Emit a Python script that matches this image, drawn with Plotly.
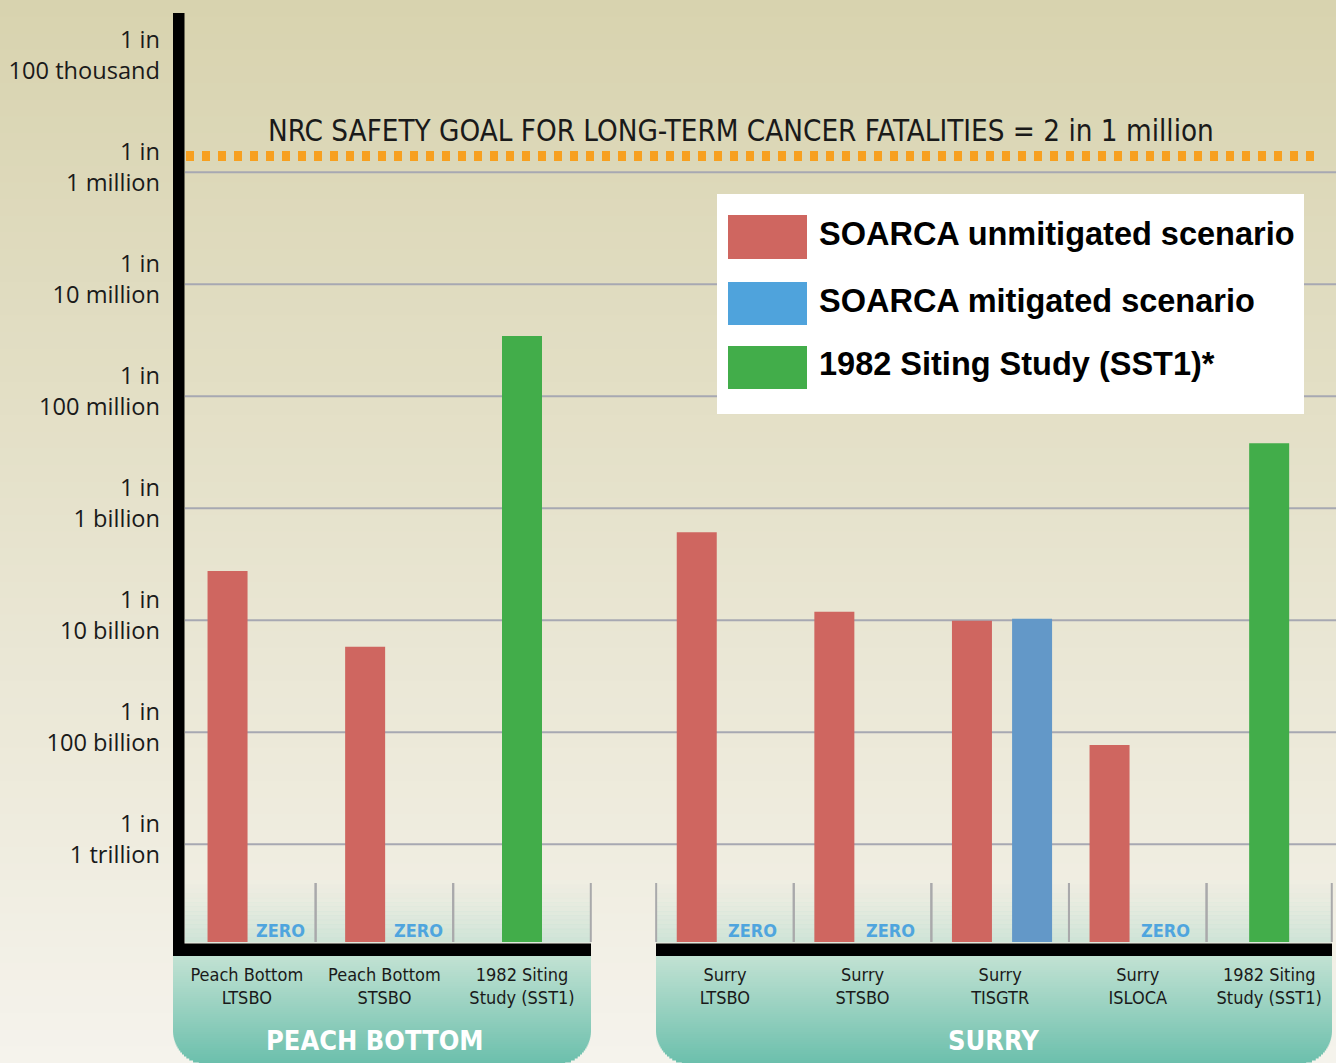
import plotly.graph_objects as go
import math

# ---------------- data ----------------
categories = ["Peach Bottom<br>LTSBO", "Peach Bottom<br>STSBO", "1982 Siting<br>Study (SST1)",
              "Surry<br>LTSBO", "Surry<br>STSBO", "Surry<br>TISGTR", "Surry<br>ISLOCA",
              "1982 Siting<br>Study (SST1)"]
groups = ["PEACH BOTTOM", "PEACH BOTTOM", "PEACH BOTTOM",
          "SURRY", "SURRY", "SURRY", "SURRY", "SURRY"]
unmitigated = [2.75e-10, 5.8e-11, None, 6.1e-10, 1.19e-10, 9.9e-11, 7.7e-12, None]
mitigated = [0.0, 0.0, None, 0.0, 0.0, 1.03e-10, 0.0, None]      # 0.0 -> "ZERO"
siting_1982 = [None, None, 3.45e-8, None, None, None, None, 3.8e-9]

tick_vals = [1e-5, 1e-6, 1e-7, 1e-8, 1e-9, 1e-10, 1e-11, 1e-12]
tick_text = ["1 in<br>100 thousand", "1 in<br>1 million", "1 in<br>10 million",
             "1 in<br>100 million", "1 in<br>1 billion", "1 in<br>10 billion",
             "1 in<br>100 billion", "1 in<br>1 trillion"]
grid_vals = tick_vals[1:]
safety_goal_text = "NRC SAFETY GOAL FOR LONG-TERM CANCER FATALITIES = 2 in 1 million"
safety_goal_value = 1.4e-6
legend_names = ["SOARCA unmitigated scenario", "SOARCA mitigated scenario",
                "1982 Siting Study (SST1)*"]

# ---------------- styling ----------------
RED, BLUE, GREEN = "#cf6660", "#6398c8", "#42ad4a"
LEG_BLUE = "#4fa3dc"
COND = "DejaVu Sans Condensed, Liberation Sans Narrow, sans-serif"
W, H = 1336, 1063
L, R, T, B = 185, 1336, 14, 942          # plot area in pixels
UNIT, X0PX = 137.6, 178                  # one category cell in pixels / origin

group_left = {"PEACH BOTTOM": 0.0, "SURRY": 3.475}
group_right = {"PEACH BOTTOM": 3.0, "SURRY": 8.385}
red_offset = {"PEACH BOTTOM": -0.14, "SURRY": -0.205}
zero_offset = {"PEACH BOTTOM": 0.245, "SURRY": 0.2}
blue_offset = 0.232


def px(xp):
    return (xp - L) / (R - L)


def py(yp):
    return (B - yp) / (B - T)


def lerp(c1, c2, t):
    a = [int(c1[i:i + 2], 16) for i in (1, 3, 5)]
    b = [int(c2[i:i + 2], 16) for i in (1, 3, 5)]
    return "rgb(%d,%d,%d)" % tuple(round(a[k] + (b[k] - a[k]) * t) for k in range(3))


# cell geometry
centers, cell_edges = [], []
counter = {}
for g in groups:
    i = counter.get(g, 0)
    counter[g] = i + 1
    left = group_left[g] + i
    right = min(left + 1, group_right[g])
    centers.append((left + right) / 2)
    cell_edges.append((left, right))

fig = go.Figure()

rx, ry = [], []
bx, by = [], []
gx, gy = [], []
zero_x = []
for k, g in enumerate(groups):
    if unmitigated[k] is not None:
        rx.append(centers[k] + red_offset[g]); ry.append(unmitigated[k])
    if mitigated[k] is not None:
        if mitigated[k] > 0:
            bx.append(centers[k] + blue_offset); by.append(mitigated[k])
        else:
            zero_x.append(centers[k] + zero_offset[g])
    if siting_1982[k] is not None:
        gx.append(centers[k]); gy.append(siting_1982[k])

bw = 40 / UNIT
fig.add_trace(go.Bar(x=rx, y=ry, width=bw, marker=dict(color=RED, line_width=0),
                     name=legend_names[0], showlegend=False))
fig.add_trace(go.Bar(x=bx, y=by, width=bw, marker=dict(color=BLUE, line_width=0),
                     name=legend_names[1], showlegend=False))
fig.add_trace(go.Bar(x=gx, y=gy, width=bw, marker=dict(color=GREEN, line_width=0),
                     name=legend_names[2], showlegend=False))

shapes = []
# background gradient
NB = 64
for i in range(NB):
    y0p, y1p = H * i / NB, H * (i + 1) / NB + 1
    shapes.append(dict(type="rect", xref="paper", yref="paper", layer="below",
                       x0=px(0), x1=px(W), y0=py(y1p), y1=py(y0p), line_width=0,
                       fillcolor=lerp("#d8d3af", "#f5f3ec", (i + 0.5) / NB)))

# teal group panels with rounded bottom corners
panel_px = {"PEACH BOTTOM": (173, 591), "SURRY": (656, 1332)}
group_label_px = {"PEACH BOTTOM": 375, "SURRY": 993}
ptop, pbot, rad = 956, 1064, 34
for g, (xa, xb) in panel_px.items():
    yy = ptop
    while yy < pbot:
        y2 = min(yy + 2, pbot)
        ym = (yy + y2) / 2
        dy = ym - (pbot - rad)
        inset = 0 if dy <= 0 else rad - math.sqrt(max(rad * rad - dy * dy, 0))
        shapes.append(dict(type="rect", xref="paper", yref="paper", layer="below",
                           x0=px(xa + inset), x1=px(xb - inset), y0=py(y2 + 0.5), y1=py(yy),
                           line_width=0,
                           fillcolor=lerp("#c2e2d3", "#6bbfac", (ym - ptop) / (pbot - ptop))))
        yy = y2

# light gradient at the bottom of cells
for g in ["PEACH BOTTOM", "SURRY"]:
    NC = 14
    for i in range(NC):
        y0p = 880 + (B - 880) * i / NC
        y1p = 880 + (B - 880) * (i + 1) / NC
        t = (i + 0.5) / NC
        shapes.append(dict(type="rect", xref="x", yref="paper", layer="below",
                           x0=group_left[g], x1=group_right[g], y0=py(y1p + 0.5), y1=py(y0p),
                           line_width=0,
                           fillcolor="rgba(205,227,214,%.3f)" % (t ** 1.3)))

# gridlines
for v in grid_vals:
    shapes.append(dict(type="line", xref="paper", yref="y", layer="below",
                       x0=0, x1=1, y0=v, y1=v, line=dict(color="#a7a8b2", width=2)))

# cell separators
for (a, b_) in cell_edges:
    for e in (a, b_):
        if e > 0.01:
            shapes.append(dict(type="line", xref="x", yref="paper", layer="below",
                               x0=e, x1=e, y0=py(B), y1=py(883),
                               line=dict(color="#a9a9ab", width=2)))

# black axes
shapes.append(dict(type="rect", xref="paper", yref="paper", layer="above",
                   x0=px(173), x1=px(184.5), y0=py(956), y1=py(13), line_width=0,
                   fillcolor="black"))
for g, (xa, xb) in panel_px.items():
    shapes.append(dict(type="rect", xref="paper", yref="paper", layer="above",
                       x0=px(xa), x1=px(xb), y0=py(956), y1=py(943.5), line_width=0,
                       fillcolor="black"))

# safety goal line
shapes.append(dict(type="line", xref="paper", yref="y", layer="above",
                   x0=px(186), x1=px(1322), y0=safety_goal_value, y1=safety_goal_value,
                   line=dict(color="#f7a020", width=10, dash="8px,8px")))

# legend box
shapes.append(dict(type="rect", xref="paper", yref="paper", layer="above",
                   x0=px(717), x1=px(1304), y0=py(414), y1=py(194), line_width=0,
                   fillcolor="white"))
sw_cols = [RED, LEG_BLUE, GREEN]
sw_y = [(215, 259), (282, 325), (346, 389)]
annotations = []
for c, (ya, yb), name in zip(sw_cols, sw_y, legend_names):
    shapes.append(dict(type="rect", xref="paper", yref="paper", layer="above",
                       x0=px(728), x1=px(807), y0=py(yb), y1=py(ya), line_width=0,
                       fillcolor=c))
    annotations.append(dict(xref="paper", yref="paper", x=px(817), y=py((ya + yb) / 2 - 3),
                            xanchor="left", yanchor="middle", showarrow=False,
                            text="<b>%s</b>" % name,
                            font=dict(family="Liberation Sans", size=32.5, color="black")))

# title of goal line
annotations.append(dict(xref="paper", yref="paper", x=px(266), y=py(131),
                        xanchor="left", yanchor="middle", showarrow=False,
                        text=safety_goal_text,
                        font=dict(family=COND, size=29.3, color="#1a1a1a")))

# ZERO labels
for zx in zero_x:
    annotations.append(dict(xref="x", yref="paper", x=zx, y=py(930),
                            xanchor="center", yanchor="middle", showarrow=False,
                            text="<b>ZERO</b>",
                            font=dict(family=COND, size=18, color="#4fa5de")))

# group labels
for g in panel_px:
    annotations.append(dict(xref="paper", yref="paper", x=px(group_label_px[g]), y=py(1040),
                            xanchor="center", yanchor="middle", showarrow=False,
                            text="<b>%s</b>" % g,
                            font=dict(family=COND, size=27, color="white")))

fig.update_layout(
    width=W, height=H,
    margin=dict(l=L, r=W - R, t=T, b=H - B, pad=0),
    paper_bgcolor="#f5f3ec", plot_bgcolor="rgba(0,0,0,0)",
    barmode="overlay", showlegend=False,
    shapes=shapes, annotations=annotations,
    xaxis=dict(range=[(L - X0PX) / UNIT, (R - X0PX) / UNIT], showgrid=False, zeroline=False,
               showline=False, ticks="", tickvals=centers, ticktext=categories,
               tickfont=dict(family=COND, size=18, color="#1a1a1a"),
               ticklabelstandoff=20),
    yaxis=dict(type="log",
               range=[-6 - (B - 172.3) / 112, -6 + (172.3 - T) / 112],
               showgrid=False, zeroline=False, showline=False, ticks="",
               tickvals=tick_vals, ticktext=tick_text,
               tickfont=dict(family="Open Sans", size=23.6, color="#1a1a1a"),
               ticklabelstandoff=24, ticklabelshift=-5),
)

fig.write_html("out.html", config={"displayModeBar": False},
               post_script="document.body.style.margin='0px';"
                           "document.body.style.background='#f5f3ec';")
